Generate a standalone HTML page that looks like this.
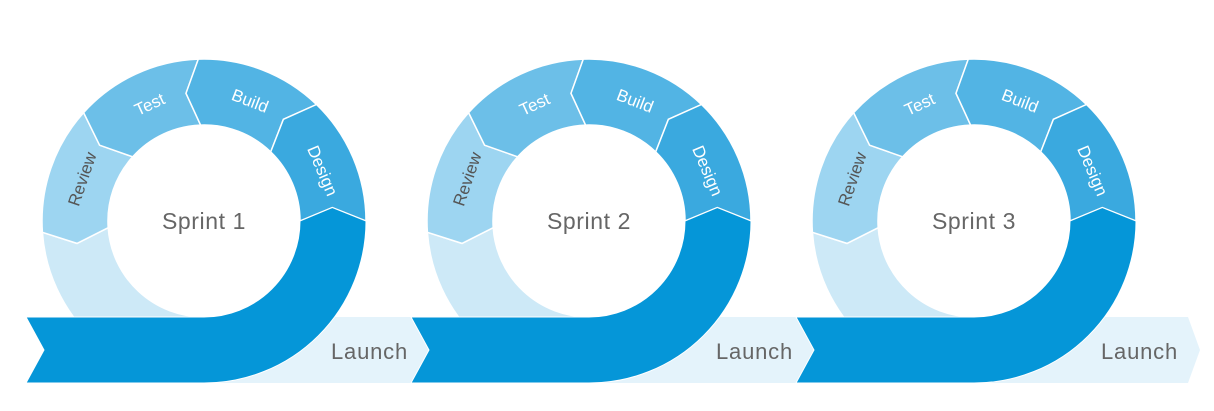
<!DOCTYPE html>
<html><head><meta charset="utf-8"><style>
html,body{margin:0;padding:0;background:#fff;}
svg{display:block;}
text{font-family:"Liberation Sans",sans-serif;}
</style></head><body>
<svg width="1214" height="411" viewBox="0 0 1214 411" xmlns="http://www.w3.org/2000/svg">
<defs>
<g id="sp">
  <path d="M0,96 L214,96 L226,129 L214,162 L0,162 Z" fill="#e4f3fb"/>
  <g stroke="#fff" stroke-width="1.5" stroke-linejoin="miter">
  <path d="M-161.6,11.3 A162,162 0 0 0 0,162 L0,96 A96,96 0 0 1 -95.8,6.7 L-127,22.4 Z" fill="#cde9f7"/>
  <path d="M-120.4,-108.4 A162,162 0 0 0 -161.6,11.3 L-127,22.4 L-95.8,6.7 A96,96 0 0 1 -71.3,-64.2 L-104.4,-75.8 Z" fill="#9dd5f1"/>
  <path d="M-5.7,-161.9 A162,162 0 0 0 -120.4,-108.4 L-104.4,-75.8 L-71.3,-64.2 A96,96 0 0 1 -3.4,-95.9 L-18,-127.7 Z" fill="#6cbfe8"/>
  <path d="M112.5,-116.5 A162,162 0 0 0 -5.7,-161.9 L-18,-127.7 L-3.4,-95.9 A96,96 0 0 1 66.7,-69.1 L79.4,-101.7 Z" fill="#52b4e4"/>
  <path d="M162,0 A162,162 0 0 0 112.5,-116.5 L79.4,-101.7 L66.7,-69.1 A96,96 0 0 1 96,0 L128.3,-13.5 Z" fill="#3aa9df"/>
  </g>
  <path d="M-178,96 L0,96 A96,96 0 0 0 96,0 L128.3,-13.5 L162,0 A162,162 0 0 1 0,162 L-178,162 L-160,129 Z" fill="#0596d8" stroke="#fff" stroke-width="1"/>
  <g font-size="17" text-anchor="middle">
    <text transform="translate(118.7,-50.4) rotate(67)" y="6" fill="#fff">Design</text>
    <text transform="translate(46.2,-120.4) rotate(21)" y="6" fill="#fff">Build</text>
    <text transform="translate(-54.5,-116.9) rotate(-25)" y="6" fill="#fff">Test</text>
    <text transform="translate(-122,-42) rotate(-71)" y="6" fill="#555">Review</text>
  </g>
  <text x="127" y="138" font-size="22" letter-spacing="0.8" fill="#666">Launch</text>
</g>
</defs>
<g transform="translate(204,221)"><use href="#sp"/></g>
<g transform="translate(589,221)"><use href="#sp"/></g>
<g transform="translate(974,221)"><use href="#sp"/></g>
<g font-size="23" text-anchor="middle" fill="#666" letter-spacing="0.6">
  <text x="204" y="229">Sprint 1</text>
  <text x="589" y="229">Sprint 2</text>
  <text x="974" y="229">Sprint 3</text>
</g>
</svg>
</body></html>
